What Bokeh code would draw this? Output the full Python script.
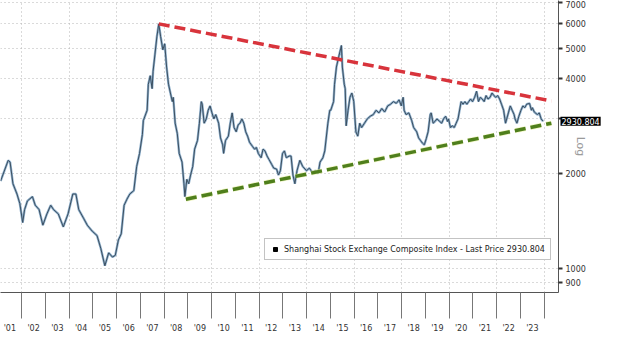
import math
from bokeh.plotting import figure
from bokeh.models import (Range1d, FixedTicker, CustomJSTickFormatter, Label, Legend, LegendItem)
from bokeh.embed import file_html
from bokeh.resources import INLINE

years = [2001.11, 2001.43, 2001.51, 2001.63, 2001.80, 2001.92, 2002.04, 2002.12, 2002.24, 2002.45,
         2002.57, 2002.73, 2002.89, 2003.06, 2003.22, 2003.34, 2003.54, 2003.75, 2003.95, 2004.15,
         2004.28, 2004.40, 2004.60, 2004.76, 2004.97, 2005.17, 2005.33, 2005.50, 2005.66, 2005.82,
         2005.94, 2006.07, 2006.19, 2006.31, 2006.43, 2006.55, 2006.72, 2006.84, 2006.96, 2007.08,
         2007.12, 2007.28, 2007.33, 2007.41, 2007.49, 2007.53, 2007.61, 2007.69, 2007.77, 2007.85,
         2007.94, 2008.02, 2008.10, 2008.18, 2008.26, 2008.34, 2008.38, 2008.46, 2008.55, 2008.63,
         2008.75, 2008.83, 2008.87, 2008.95, 2009.03, 2009.11, 2009.20, 2009.28, 2009.40, 2009.48,
         2009.56, 2009.60, 2009.68, 2009.77, 2009.85, 2009.93, 2010.01, 2010.09, 2010.17, 2010.29,
         2010.37, 2010.46, 2010.50, 2010.58, 2010.70, 2010.78, 2010.86, 2010.94, 2011.03, 2011.11,
         2011.19, 2011.27, 2011.35, 2011.43, 2011.51, 2011.59, 2011.72, 2011.80, 2011.88, 2011.96,
         2012.08, 2012.16, 2012.24, 2012.33, 2012.41, 2012.53, 2012.61, 2012.73, 2012.81, 2012.89,
         2012.98, 2013.06, 2013.14, 2013.26, 2013.34, 2013.42, 2013.50, 2013.59, 2013.71, 2013.83,
         2013.99, 2014.11, 2014.24, 2014.36, 2014.48, 2014.56, 2014.68, 2014.76, 2014.89, 2014.97,
         2015.01, 2015.13, 2015.17, 2015.25, 2015.33, 2015.46, 2015.50, 2015.58, 2015.62, 2015.66,
         2015.74, 2015.82, 2015.90, 2015.98, 2016.07, 2016.15, 2016.23, 2016.31, 2016.43, 2016.55,
         2016.67, 2016.80, 2016.92, 2017.04, 2017.16, 2017.28, 2017.41, 2017.53, 2017.65, 2017.77,
         2017.89, 2017.98, 2018.06, 2018.10, 2018.18, 2018.30, 2018.42, 2018.50, 2018.63, 2018.71,
         2018.79, 2018.87, 2018.95, 2019.03, 2019.11, 2019.20, 2019.24, 2019.32, 2019.40, 2019.48,
         2019.60, 2019.68, 2019.76, 2019.85, 2019.93, 2019.97, 2020.05, 2020.13, 2020.21, 2020.29,
         2020.37, 2020.50, 2020.58, 2020.66, 2020.74, 2020.82, 2020.90, 2020.98, 2021.07, 2021.15,
         2021.23, 2021.31, 2021.39, 2021.47, 2021.55, 2021.63, 2021.72, 2021.80, 2021.88, 2021.96,
         2022.04, 2022.12, 2022.20, 2022.29, 2022.37, 2022.49, 2022.57, 2022.65, 2022.73, 2022.77,
         2022.85, 2022.93, 2023.02, 2023.10, 2023.18, 2023.26, 2023.38, 2023.46, 2023.50, 2023.58,
         2023.71, 2023.79, 2023.87, 2023.95]
prices = [1893, 2203, 2175, 1857, 1722, 1606, 1398, 1537, 1637, 1690,
          1586, 1537, 1371, 1489, 1586, 1537, 1489, 1354, 1489, 1722,
          1722, 1537, 1443, 1371, 1312, 1271, 1156, 1019, 1120, 1086,
          1100, 1231, 1287, 1586, 1658, 1722, 1766, 2107, 2317, 2662,
          2945, 3177, 3840, 4091, 3721, 4222, 4790, 5437, 5976, 5437,
          4944, 5168, 4358, 3840, 3605, 3385, 3493, 2890, 2679, 2317,
          2175, 1857, 1690, 1917, 1857, 1978, 2107, 2391, 2547, 2890,
          3385, 3321, 2890, 2983, 3177, 3280, 3117, 2983, 3078, 2890,
          2596, 2468, 2317, 2547, 2629, 2890, 3117, 2800, 2714, 2853,
          2890, 2983, 2890, 2714, 2629, 2515, 2437, 2391, 2421, 2317,
          2245, 2391, 2361, 2273, 2217, 2134, 2081, 2067, 1978, 2042,
          2317, 2361, 2245, 2273, 2273, 1978, 1857, 2042, 2203, 2107,
          2042, 2081, 2016, 2042, 2003, 2175, 2245, 2361, 2890, 3177,
          3177, 3385, 3840, 4358, 4642, 5103, 4358, 3840, 3721, 2835,
          3177, 3493, 3605, 3385, 2714, 2629, 2890, 2800, 2890, 2983,
          3040, 3078, 3177, 3117, 3218, 3137, 3280, 3321, 3385, 3342,
          3428, 3280, 3493, 3177, 3078, 3117, 2945, 2800, 2714, 2596,
          2547, 2499, 2468, 2579, 2714, 3078, 3117, 2890, 2927, 2983,
          2927, 2890, 2983, 3040, 2927, 2983, 2800, 2835, 2800, 2890,
          2983, 3385, 3321, 3385, 3321, 3385, 3449, 3385, 3493, 3651,
          3385, 3493, 3449, 3385, 3538, 3449, 3493, 3605, 3538, 3493,
          3538, 3449, 3321, 3177, 2890, 3117, 3280, 3177, 3078, 2983,
          2890, 3040, 3177, 3280, 3238, 3321, 3342, 3177, 3238, 3137,
          3078, 3117, 2983, 2930.804]

upper_x = [2007.77, 2024.30]
upper_y = [5976, 3400]
lower_x = [2008.91, 2024.30]
lower_y = [1658, 2890]

year_labels = list(range(2001, 2024))
y_ticks = [900, 1000, 2000, 3000, 4000, 5000, 6000, 7000]
last_price = 2930.804
series_name = "Shanghai Stock Exchange Composite Index - Last Price 2930.804"

FONT = "DejaVu Sans"

p = figure(width=604, height=344, output_backend="svg", toolbar_location=None,
           y_axis_type="log", y_axis_location="right",
           x_range=Range1d(2001.106, 2024.6), y_range=Range1d(838, 7090),
           min_border_left=0, min_border_top=0, min_border_right=46, min_border_bottom=26)
p.outline_line_color = None

mids = [y + 0.5 for y in year_labels]
bounds = [y for y in range(2002, 2025)]
xa = p.xaxis[0]
xa.ticker = FixedTicker(ticks=mids, minor_ticks=bounds)
xa.formatter = CustomJSTickFormatter(code="return \"'\" + String(Math.floor(tick)).slice(2);")
xa.major_tick_line_color = None
xa.major_tick_out = 0
xa.major_tick_in = 0
xa.minor_tick_out = 26
xa.minor_tick_in = 0
xa.minor_tick_line_color = "#777777"
xa.axis_line_color = "#555555"
xa.major_label_standoff = 5
xa.major_label_text_font = FONT
xa.major_label_text_font_size = "8px"
xa.major_label_text_color = "#333333"

ya = p.yaxis[0]
ya.ticker = FixedTicker(ticks=y_ticks)
ya.major_label_overrides = {t: ("" if t == 3000 else str(t)) for t in y_ticks}
ya.minor_tick_line_color = None
ya.major_tick_out = 4
ya.major_tick_in = 0
ya.major_tick_line_color = "#333333"
ya.major_tick_line_width = 2
ya.axis_line_color = "#555555"
ya.major_label_text_font = FONT
ya.major_label_text_font_size = "8px"
ya.major_label_text_color = "#333333"
ya.major_label_standoff = 3
ya.axis_label = "Log"
ya.axis_label_standoff = -15
ya.axis_label_text_font = FONT
ya.axis_label_text_font_size = "11px"
ya.axis_label_text_font_style = "normal"
ya.axis_label_text_color = "#9a9a9a"

p.ygrid.grid_line_color = "#b5b5b5"
p.ygrid.grid_line_dash = "1 3"
p.xgrid.ticker = FixedTicker(ticks=list(range(2002, 2025, 2)))
p.xgrid.grid_line_color = "#b5b5b5"
p.xgrid.grid_line_dash = "1 3"

p.line(years, prices, line_color="#8fb0cc", line_width=2.4)
p.line(years, prices, line_color="#3c4f60", line_width=1.0)

p.line(upper_x, upper_y, line_color="#d8343c", line_width=3.5, line_dash="11 5")
p.line(lower_x, lower_y, line_color="#e8f0a0", line_width=5, line_dash="11 5", line_alpha=0.6)
p.line(lower_x, lower_y, line_color="#4f7f1c", line_width=3.5, line_dash="11 5")

dummy = p.scatter([2000], [1000], marker="square", size=8, fill_color="black", line_color="black")
legend = Legend(items=[LegendItem(label=series_name, renderers=[dummy])],
                location=(264, 32), label_text_font=FONT, label_text_font_size="8px",
                label_text_color="#222222", glyph_width=10, glyph_height=10,
                padding=5, spacing=0, margin=0, label_standoff=4,
                border_line_color="#888888", border_line_width=1,
                background_fill_color="white", background_fill_alpha=1.0)
p.add_layout(legend, "center")

tag = Label(x=2024.6, y=last_price, text=f"{last_price:.3f}", x_offset=2,
            text_font=FONT, text_font_size="8px", text_color="white",
            text_baseline="middle", background_fill_color="black",
            padding=1)
p.add_layout(tag, "below")

open("out.html", "w").write(file_html(p, INLINE))
